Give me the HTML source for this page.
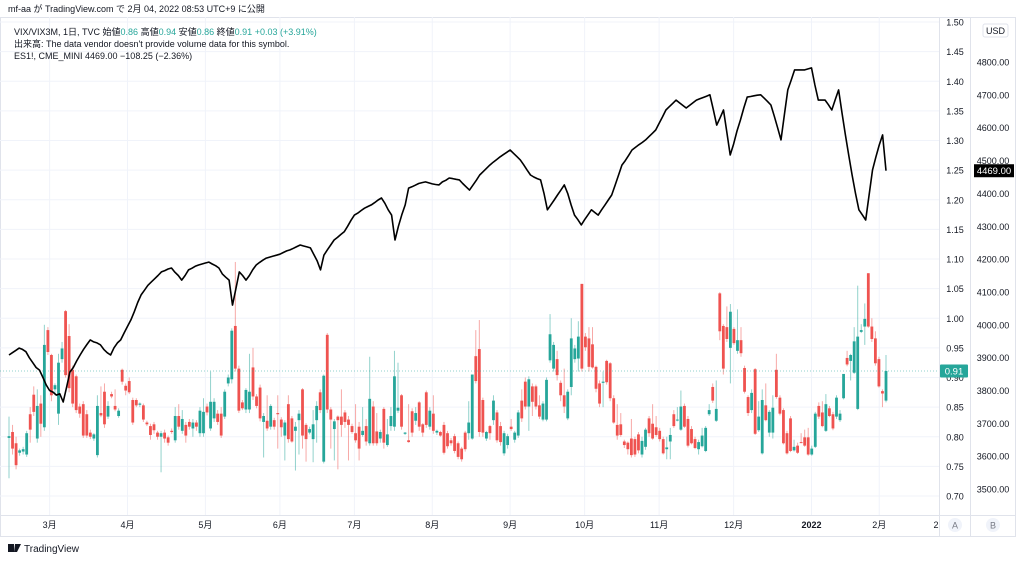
<!DOCTYPE html>
<html><head><meta charset="utf-8">
<style>
body{margin:0;background:#fff;width:1024px;height:561px;overflow:hidden;font-family:"Liberation Sans","Noto Sans CJK JP",sans-serif;}
svg{position:absolute;left:0;top:0}
</style></head>
<body>
<svg id="chart" width="1024" height="561" xmlns="http://www.w3.org/2000/svg">
<rect x="0" y="0" width="1024" height="561" fill="#fff"/>
<text x="8" y="12" font-size="9" fill="#131722" font-family="Liberation Sans, Noto Sans CJK JP, sans-serif">mf-aa が TradingView.com で 2月 04, 2022 08:53 UTC+9 に公開</text>
<rect x="0.5" y="17.5" width="1015" height="519" fill="none" stroke="#e0e3eb"/>
<line x1="939.5" y1="17" x2="939.5" y2="537" stroke="#e0e3eb"/>
<line x1="970.5" y1="17" x2="970.5" y2="537" stroke="#e0e3eb"/>
<line x1="0" y1="515.5" x2="1016" y2="515.5" stroke="#e0e3eb"/>
<g id="grid"></g>
<g id="candles"></g>
<g id="line"></g>
<g id="axes"></g>
<g font-size="9" font-family="Liberation Sans, Noto Sans CJK JP, sans-serif">
<text x="14" y="35" fill="#131722">VIX/VIX3M, 1日, TVC  始値<tspan fill="#26a69a">0.86</tspan>  高値<tspan fill="#26a69a">0.94</tspan>  安値<tspan fill="#26a69a">0.86</tspan>  終値<tspan fill="#26a69a">0.91  +0.03 (+3.91%)</tspan></text>
<text x="14" y="47" fill="#131722">出来高: The data vendor doesn't provide volume data for this symbol.</text>
<text x="14" y="59" fill="#131722">ES1!, CME_MINI  4469.00  −108.25 (−2.36%)</text>
</g>
<g><rect x="983" y="24" width="25" height="13" rx="2" fill="#fff" stroke="#e0e3eb"/><text x="995.5" y="34" font-size="9" text-anchor="middle" fill="#131722">USD</text></g>
<g><circle cx="955" cy="525" r="7" fill="#f0f3fa"/><text x="955" y="528.5" font-size="9" text-anchor="middle" fill="#787b86">A</text></g>
<g><circle cx="993" cy="525" r="7" fill="#f0f3fa"/><text x="993" y="528.5" font-size="9" text-anchor="middle" fill="#787b86">B</text></g>
<g><rect x="8" y="544" width="6" height="8" fill="#131722"/><path d="M15 544 h6 l-4 8 h-3 z" fill="#131722"/><text x="24" y="552" font-size="10" fill="#131722">TradingView</text></g>
</svg>
<script>
const NS="http://www.w3.org/2000/svg";
// VIX/VIX3M daily OHLC
const opens=[.798,.808,.789,.773,.775,.770,.838,.871,.797,.856,.816,.980,.938,.880,.839,.931,1.012,.970,.913,.902,.851,.855,.838,.807,.797,.769,.840,.876,.834,.872,.852,.835,.913,.886,.894,.862,.862,.854,.853,.824,.818,.821,.807,.800,.807,.799,.810,.794,.835,.810,.820,.825,.814,.824,.806,.806,.851,.814,.831,.839,.839,.834,.890,.897,.987,.915,.858,.846,.846,.917,.868,.883,.825,.827,.817,.828,.840,.829,.802,.855,.831,.810,.828,.880,.820,.807,.796,.828,.875,.758,.972,.846,.813,.834,
.834,.841,.829,.818,.806,.817,.803,.818,.789,.851,.809,.797,.847,.786,.818,.817,.844,.870,.805,.794,.843,.827,.858,.821,.875,.817,.839,.807,.808,.820,.806,.794,.801,.789,.780,.807,.806,.797,.936,.948,.862,.797,.818,.828,.841,.818,.772,.786,.817,.795,.802,.861,.893,.851,.885,.885,.853,.829,.829,.929,.915,.931,.891,.870,.831,.884,.931,.932,1.058,.969,.966,.956,.918,.890,.891,.928,.924,.865,.820,.821,.792,.790,
.797,.796,.804,.770,.783,.831,.822,.816,.810,.796,.779,.792,.838,.828,.812,.852,.830,.813,.796,.779,.784,.776,.838,.884,.827,1.042,.987,.985,.950,.982,.945,.963,.916,.867,.845,.914,.811,.772,.853,.807,.807,.913,.866,.845,.806,.831,.777,.785,.791,.799,.799,.770,.783,.852,.841,.810,.848,.838,.834,.828,.865,.933,.928,.908,.847,.977,.986,1.076,.986,.966,.931,.877,.861];
const highs=[.834,.820,.800,.780,.783,.810,.850,.885,.880,.870,.989,.985,.940,.890,.940,.960,1.014,.990,.920,.905,.856,.860,.845,.812,.806,.870,.885,.890,.860,.876,.880,.848,.915,.890,.900,.866,.865,.858,.856,.827,.822,.825,.810,.810,.812,.802,.814,.850,.855,.845,.825,.830,.830,.828,.850,.865,.856,.910,.865,.845,.850,.880,.905,.983,1.095,.920,.862,.882,.940,.950,.872,.888,.840,.870,.855,.832,.870,.833,.828,.870,.835,.825,.845,.882,.823,.817,.845,.860,.880,.905,.975,.850,.830,.836,
.880,.845,.835,.822,.855,.825,.850,.830,.935,.860,.840,.812,.850,.830,.850,.945,.925,.872,.808,.855,.848,.850,.860,.823,.878,.850,.870,.812,.810,.825,.810,.798,.805,.792,.783,.810,.860,.905,.980,.997,.866,.810,.820,.870,.845,.825,.810,.805,.830,.810,.845,.880,.900,.902,.890,.888,.870,.860,.900,1.007,.960,.945,.895,.915,.880,1.000,.955,.995,1.058,.975,.985,.985,.920,.895,.910,.930,.926,.870,.855,.840,.795,.792,
.830,.800,.808,.800,.815,.835,.855,.835,.815,.800,.800,.815,.845,.850,.878,.856,.835,.818,.800,.795,.815,.818,.855,.890,.895,1.044,.990,1.020,1.024,.985,1.015,.985,.920,.870,.880,.916,.860,.880,.890,.845,.870,.940,.870,.848,.810,.835,.795,.790,.806,.812,.815,.785,.842,.858,.860,.872,.852,.842,.870,.845,.905,.945,.940,.985,1.055,.990,1.025,1.076,1.000,.978,.935,.880,.938];
const lows=[.730,.770,.745,.768,.770,.766,.790,.835,.790,.800,.810,.938,.860,.870,.820,.925,.900,.875,.850,.840,.832,.798,.798,.796,.793,.765,.833,.815,.830,.865,.843,.832,.888,.870,.872,.820,.850,.850,.825,.818,.795,.805,.795,.740,.790,.785,.805,.790,.812,.805,.790,.812,.800,.810,.800,.800,.836,.810,.825,.820,.798,.830,.885,.890,.910,.840,.845,.840,.840,.862,.848,.826,.765,.810,.812,.812,.780,.800,.760,.790,.790,.743,.770,.780,.758,.804,.757,.790,.840,.755,.840,.780,.760,.745,
.800,.815,.760,.805,.790,.760,.800,.785,.785,.785,.785,.790,.780,.783,.810,.810,.840,.812,.803,.790,.800,.820,.810,.800,.815,.812,.805,.803,.800,.770,.780,.785,.772,.762,.758,.775,.795,.795,.890,.800,.800,.793,.795,.820,.790,.785,.768,.780,.810,.790,.798,.825,.846,.810,.835,.846,.830,.826,.826,.925,.910,.895,.860,.840,.828,.870,.925,.910,.910,.945,.910,.915,.875,.850,.850,.888,.860,.822,.795,.800,.781,.770,
.765,.766,.772,.765,.778,.800,.795,.800,.792,.770,.762,.762,.815,.826,.810,.815,.782,.787,.779,.770,.782,.774,.835,.857,.825,.963,.905,.960,.890,.955,.940,.935,.873,.835,.840,.803,.808,.770,.826,.800,.797,.864,.836,.787,.770,.774,.775,.771,.789,.783,.768,.768,.781,.830,.816,.808,.833,.811,.830,.825,.863,.919,.895,.906,.845,.975,.955,.984,.960,.920,.883,.850,.858];
const closes=[.801,.780,.752,.777,.779,.806,.812,.842,.852,.822,.955,.943,.870,.887,.925,.949,.904,.882,.856,.845,.839,.802,.802,.800,.804,.852,.836,.821,.852,.868,.846,.844,.893,.878,.875,.824,.853,.856,.829,.821,.803,.811,.800,.806,.797,.790,.808,.835,.817,.830,.802,.817,.824,.817,.844,.842,.841,.859,.859,.825,.802,.876,.900,.979,.915,.844,.848,.879,.876,.868,.852,.831,.835,.814,.852,.817,.838,.816,.824,.796,.792,.817,.839,.802,.796,.813,.821,.852,.845,.903,.846,.829,.826,.828,
.820,.825,.820,.808,.794,.780,.810,.792,.864,.789,.789,.808,.790,.804,.835,.902,.849,.817,.807,.791,.807,.840,.817,.807,.820,.844,.810,.810,.802,.773,.784,.789,.776,.766,.762,.779,.824,.905,.894,.808,.807,.808,.806,.861,.794,.791,.806,.801,.813,.807,.841,.831,.851,.897,.859,.851,.834,.856,.896,.973,.955,.904,.870,.851,.876,.966,.949,.969,.915,.951,.918,.917,.881,.856,.893,.892,.865,.824,.802,.803,.786,.779,
.769,.770,.777,.793,.812,.806,.797,.803,.796,.772,.782,.803,.818,.829,.851,.817,.785,.789,.781,.791,.802,.815,.845,.861,.847,.978,.915,.965,1.011,.958,.963,.941,.876,.840,.874,.805,.834,.862,.828,.842,.849,.867,.839,.789,.772,.776,.783,.773,.790,.785,.770,.780,.839,.834,.818,.855,.835,.814,.866,.839,.906,.922,.938,.961,.969,.980,.999,.986,.965,.924,.885,.873,.911];
// ES1! daily closes
const esCloses=[3908,3915,3922,3929,3925,3918,3900,3885,3870,3862,3840,3817,3800,3795,3786,3790,3765,3810,3856,3870,3890,3908,3925,3940,3954,3948,3945,3939,3925,3915,3908,3930,3945,3954,3975,3995,4015,4040,4068,4091,4105,4120,4130,4140,4150,4161,4165,4170,4173,4160,4150,4136,4150,4167,4172,4178,4182,4185,4188,4191,4185,4180,4173,4155,4145,4136,4060,4110,4161,4150,4136,4150,4168,4182,4190,4197,4203,4206,4209,4212,4215,4220,4225,4228,4233,4238,4243,4240,4237,4234,4215,4195,4167,4212,4228,4243,4258,4266,4275,4283,4300,4318,4334,4340,4348,4355,4360,4365,4372,4380,4386,4370,4350,4334,4258,4300,4335,4365,4416,4420,4425,4430,4433,4435,4432,4429,4427,4426,4435,4440,4447,4445,4443,4441,4430,4420,4410,4425,4440,4456,4466,4476,4486,4495,4503,4511,4518,4525,4532,4522,4512,4502,4487,4471,4456,4450,4445,4441,4400,4350,4365,4380,4395,4410,4426,4400,4365,4334,4320,4304,4320,4335,4350,4342,4334,4350,4365,4380,4395,4425,4455,4486,4500,4516,4532,4540,4548,4555,4563,4573,4583,4593,4613,4633,4654,4664,4674,4684,4676,4668,4660,4668,4676,4684,4688,4692,4696,4700,4655,4608,4630,4654,4585,4517,4550,4590,4623,4660,4693,4695,4697,4699,4700,4690,4680,4669,4635,4600,4563,4640,4715,4745,4776,4776,4776,4776,4779,4782,4730,4684,4684,4684,4670,4654,4685,4715,4645,4578,4515,4456,4400,4350,4335,4319,4395,4471,4510,4547,4578,4469];
const ticksA=[1.50,1.45,1.40,1.35,1.30,1.25,1.20,1.15,1.10,1.05,1.00,0.95,0.90,0.85,0.80,0.75,0.70];
const ticksB=[4800,4700,4600,4500,4400,4300,4200,4100,4000,3900,3800,3700,3600,3500];
const monthLabels=["3月","4月","5月","6月","7月","8月","9月","10月","11月","12月","2022","2月","2"];
const monthBarIdx=[12,35,58,80,102,125,148,170,192,214,237,257,283];

const X0=9,X1=886;
function xc(i,n){return X0+i*(X1-X0)/(n-1);}
function yA(v){return 22+(1.5-v)*592.5;}
function yB(v){return 62+(4800-v)*0.3285;}
function mk(tag,attrs,parent){const e=document.createElementNS(NS,tag);for(const k in attrs)e.setAttribute(k,attrs[k]);parent.appendChild(e);return e;}

const grid=document.getElementById('grid'),axes=document.getElementById('axes');
ticksA.forEach(t=>{const y=yA(t);
 const g=mk('line',{x1:0,x2:939,y1:y,y2:y,stroke:'#f0f3fa'},grid);
 
 
 const tx=mk('text',{x:955,y:y+3.5,'font-size':9,'text-anchor':'middle',fill:'#131722'},axes);tx.textContent=t.toFixed(2);
 
 
});
ticksB.forEach(t=>{const y=yB(t);
 const tx=mk('text',{x:993,y:y+3.5,'font-size':9,'text-anchor':'middle',fill:'#131722'},axes);tx.textContent=t.toFixed(2);
 
 
});
monthLabels.forEach((m,k)=>{const x=xc(monthBarIdx[k],260);
 if(x<938){const g=mk('line',{x1:x,x2:x,y1:17,y2:515,stroke:'#f0f3fa'},grid);
 
 }
 const tx=mk('text',{x:Math.min(x,936),y:528,'font-size':9,'text-anchor':'middle',fill:'#131722','font-weight':m==='2022'?'bold':'normal'},axes);tx.textContent=m;
 
 
});
// candles
const cg=document.getElementById('candles');const n=opens.length;
for(let i=0;i<n;i++){const x=xc(i,n);const up=closes[i]>=opens[i];const col=up?'#26a69a':'#ef5350';
 const w=mk('line',{x1:x,x2:x,y1:yA(highs[i]),y2:yA(lows[i]),stroke:col,'stroke-opacity':0.5,'stroke-width':1},cg);
 
 
 const t=yA(Math.max(opens[i],closes[i])),b=yA(Math.min(opens[i],closes[i]));
 const r=mk('rect',{x:x-1.4,y:t,width:2.8,height:Math.max(1,b-t),fill:col},cg);
 
 
}
// last price dotted line & labels
const lastY=yA(closes[n-1]);
const dl=mk('line',{x1:0,x2:939,y1:lastY,y2:lastY,stroke:'#26a69a','stroke-opacity':0.5,'stroke-dasharray':'1,2'},cg);


const lg=mk('g',{},axes);


mk('rect',{x:940,y:lastY-6.5,width:28,height:13,rx:1,fill:'#26a69a'},lg);
const lt=mk('text',{x:954,y:lastY+3.5,'font-size':9.5,'text-anchor':'middle',fill:'#fff'},lg);lt.textContent=closes[n-1].toFixed(2);
// ES line
const lgG=document.getElementById('line');const m=esCloses.length;
let d='';esCloses.forEach((v,i)=>{d+=(i?'L':'M')+xc(i,m).toFixed(1)+' '+yB(v).toFixed(1);});
const p=mk('path',{d:d,fill:'none',stroke:'#000','stroke-width':1.6,'stroke-linejoin':'round'},lgG);


const ey=yB(esCloses[m-1]);
const eg=mk('g',{},axes);


mk('rect',{x:974,y:ey-6.5,width:40,height:13,fill:'#000'},eg);
const et=mk('text',{x:994,y:ey+3.5,'font-size':9.5,'text-anchor':'middle',fill:'#fff'},eg);et.textContent=esCloses[m-1].toFixed(2);
</script>
</body></html>
